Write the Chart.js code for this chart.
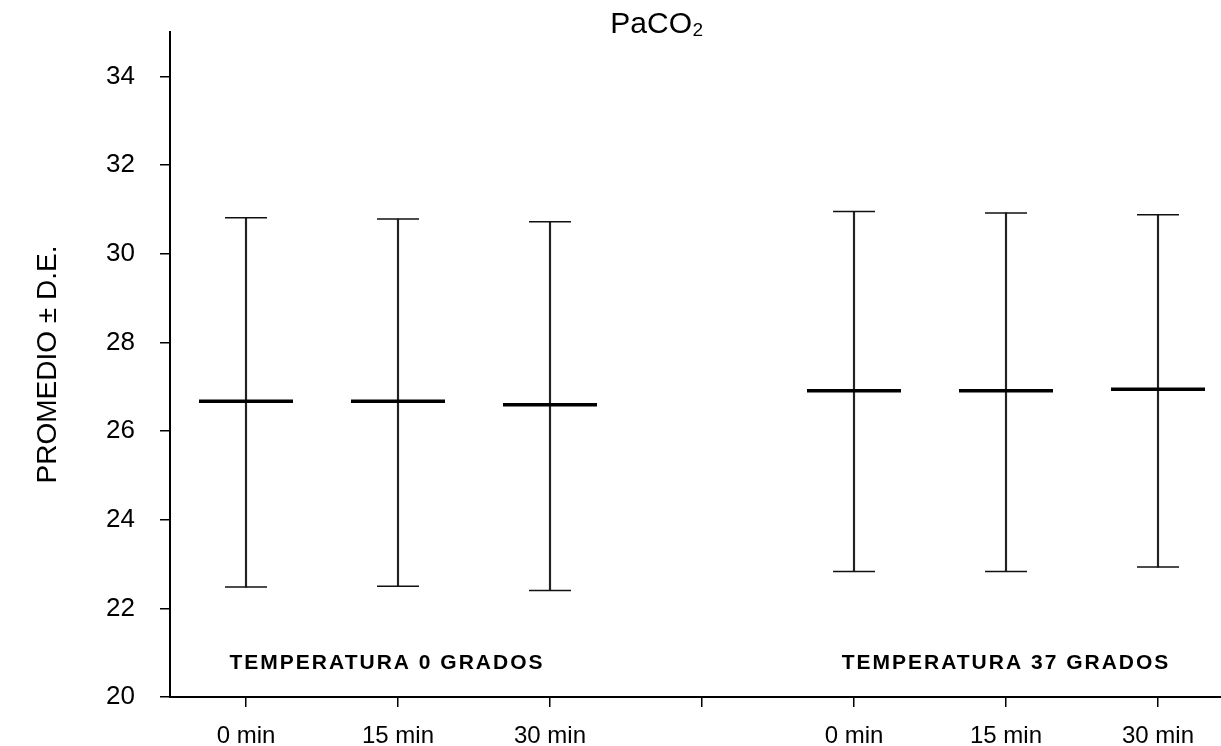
<!DOCTYPE html>
<html>
<head>
<meta charset="utf-8">
<title>PaCO2</title>
<script src="https://cdn.jsdelivr.net/npm/chart.js@4.4.0/dist/chart.umd.min.js"></script>
<style>
  html, body { margin: 0; padding: 0; background: #fff; overflow: hidden; }
  #wrap { width: 1221px; height: 746px; overflow: hidden; }
</style>
</head>
<body>
<div id="wrap"><canvas id="chart" width="1234" height="746"></canvas></div>
<script>
// Values (mean and mean +/- SD)
const categories = ['0 min', '15 min', '30 min', '', '0 min', '15 min', '30 min'];
const means = [26.67, 26.67, 26.59, null, 26.91, 26.91, 26.94];
const upper = [30.81, 30.78, 30.72, null, 30.95, 30.92, 30.88];
const lower = [22.48, 22.5, 22.4, null, 22.83, 22.83, 22.93];
const yTicks = [20, 22, 24, 26, 28, 30, 32, 34];
const groupLabels = ['TEMPERATURA 0 GRADOS', 'TEMPERATURA 37 GRADOS'];
const groupAt = [1, 5];

const FONT = '"Liberation Sans", Arial, sans-serif';

// vertical SD lines as floating bars
const ranges = lower.map((l, i) => (l == null ? null : [l, upper[i]]));

// title and group captions
const textPlugin = {
    id: 'texts',
    afterDraw(chart) {
        const ctx = chart.ctx;
        const xs = chart.scales.x, ys = chart.scales.y;
        ctx.save();
        ctx.fillStyle = '#000';
        ctx.textAlign = 'center';
        ctx.textBaseline = 'middle';
        ctx.font = '30px ' + FONT;
        ctx.fillText('PaCO\u2082', 657, 25);
        ctx.font = 'bold 21px ' + FONT;
        ctx.letterSpacing = '2px';
        const shift = [-11, 0];
        groupLabels.forEach((t, i) => {
            ctx.fillText(t, xs.getPixelForValue(groupAt[i]) + shift[i], ys.getPixelForValue(20.77));
        });
        ctx.restore();
    }
};

new Chart(document.getElementById('chart'), {
    type: 'bar',
    data: {
        labels: categories,
        datasets: [
            {
                type: 'line',
                data: means,
                showLine: false,
                pointStyle: 'line',
                pointRadius: 47,
                pointHoverRadius: 47,
                pointBorderColor: '#000',
                pointBorderWidth: 3.5
            },
            {
                type: 'line',
                data: upper,
                showLine: false,
                pointStyle: 'line',
                pointRadius: 21,
                pointHoverRadius: 21,
                pointBorderColor: '#111',
                pointBorderWidth: 1.5
            },
            {
                type: 'line',
                data: lower,
                showLine: false,
                pointStyle: 'line',
                pointRadius: 21,
                pointHoverRadius: 21,
                pointBorderColor: '#111',
                pointBorderWidth: 1.5
            },
            {
                type: 'bar',
                data: ranges,
                backgroundColor: '#222',
                barThickness: 1.5,
                borderWidth: 0
            }
        ]
    },
    options: {
        responsive: false,
        animation: false,
        events: [],
        layout: { autoPadding: false, padding: { top: 32, right: 0, left: 0, bottom: 0 } },
        plugins: {
            legend: { display: false },
            tooltip: { enabled: false }
        },
        scales: {
            x: {
                type: 'category',
                offset: true,
                grid: {
                    display: true,
                    offset: false,
                    drawOnChartArea: false,
                    drawTicks: true,
                    tickLength: 10,
                    color: '#000',
                    lineWidth: 1.5
                },
                border: { color: '#000', width: 2 },
                ticks: {
                    color: '#000',
                    font: { family: FONT, size: 24 },
                    padding: 15,
                    maxRotation: 0,
                    autoSkip: false
                },
                afterFit: s => {
                    s.height = 49;
                    s.paddingLeft = 0;
                    s.paddingRight = 0;
                }
            },
            y: {
                min: 20,
                max: 35,
                afterBuildTicks: s => { s.ticks = yTicks.map(v => ({ value: v })); },
                grid: {
                    display: true,
                    drawOnChartArea: false,
                    drawTicks: true,
                    tickLength: 10,
                    color: '#000',
                    lineWidth: 1.5
                },
                border: { color: '#000', width: 2 },
                ticks: {
                    color: '#000',
                    font: { family: FONT, size: 26 },
                    padding: 25
                },
                title: {
                    display: true,
                    text: 'PROMEDIO \u00b1 D.E.',
                    color: '#000',
                    font: { family: FONT, size: 28 },
                    padding: { top: 31, bottom: 0 }
                },
                afterFit: s => {
                    s.width = 170;
                    s.paddingTop = 0;
                    s.paddingBottom = 0;
                }
            }
        }
    },
    plugins: [textPlugin]
});
</script>
</body>
</html>
